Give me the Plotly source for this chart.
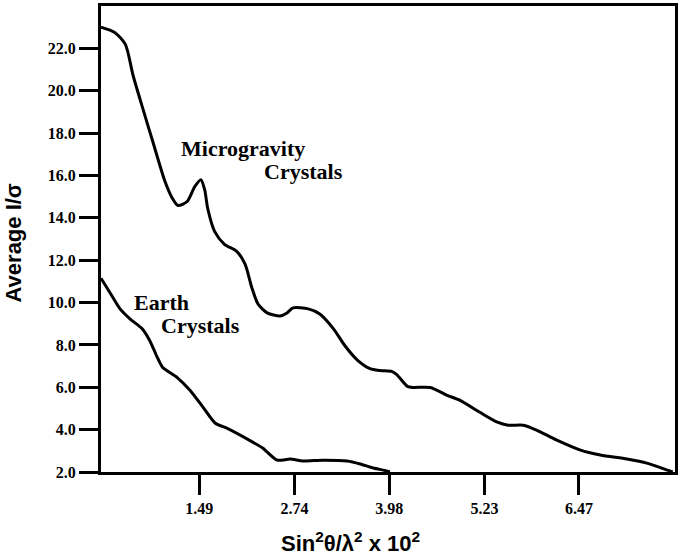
import plotly.graph_objects as go

# Microgravity crystals curve
micro_x = [0.20, 0.38, 0.52, 0.62, 0.75, 0.88, 1.04, 1.13, 1.21, 1.33, 1.43, 1.51, 1.56, 1.60,
           1.69, 1.82, 1.98, 2.09, 2.18, 2.26, 2.38, 2.55, 2.64, 2.72, 2.92, 3.07, 3.25, 3.40,
           3.57, 3.73, 3.86, 4.02, 4.08, 4.22, 4.30, 4.52, 4.74, 4.91, 5.17, 5.40, 5.54, 5.74,
           5.92, 6.18, 6.49, 6.75, 7.10, 7.36, 7.63, 7.70]
micro_y = [23.0, 22.75, 22.19, 20.73, 19.14, 17.59, 15.71, 14.96, 14.58, 14.77, 15.47, 15.80, 15.33, 14.44,
           13.36, 12.75, 12.42, 11.81, 10.69, 9.93, 9.51, 9.37, 9.51, 9.75, 9.70, 9.46, 8.76, 7.96,
           7.26, 6.88, 6.79, 6.74, 6.60, 6.04, 5.99, 5.99, 5.62, 5.38, 4.82, 4.35, 4.21, 4.21,
           3.97, 3.50, 3.03, 2.80, 2.61, 2.42, 2.09, 2.00]

# Earth crystals curve
earth_x = [0.20, 0.32, 0.45, 0.58, 0.74, 0.84, 0.94, 1.01, 1.20, 1.37, 1.54, 1.70, 1.85, 2.19,
           2.32, 2.51, 2.68, 2.85, 3.11, 3.43, 3.60, 3.77, 3.95, 3.99]
earth_y = [11.15, 10.45, 9.70, 9.23, 8.76, 8.20, 7.40, 6.93, 6.46, 5.85, 5.05, 4.30, 4.07, 3.41,
           3.13, 2.56, 2.61, 2.52, 2.56, 2.52, 2.38, 2.19, 2.05, 2.00]

x_tickvals = [1.49, 2.74, 3.98, 5.23, 6.47]
x_ticktext = ["1.49", "2.74", "3.98", "5.23", "6.47"]
y_tickvals = [2, 4, 6, 8, 10, 12, 14, 16, 18, 20, 22]
y_ticktext = ["2.0", "4.0", "6.0", "8.0", "10.0", "12.0", "14.0", "16.0", "18.0", "20.0", "22.0"]

serif = "Liberation Serif"
sans = "Liberation Sans"

fig = go.Figure()
for xs, ys in [(micro_x, micro_y), (earth_x, earth_y)]:
    fig.add_trace(go.Scatter(x=xs, y=ys, mode="lines",
                             line=dict(color="black", width=3, shape="spline", smoothing=0.7),
                             showlegend=False, hoverinfo="skip"))

fig.update_layout(
    width=685, height=555,
    margin=dict(l=101, r=10, t=3, b=83),
    paper_bgcolor="white", plot_bgcolor="white",
    xaxis=dict(range=[0.2, 7.73], showgrid=False, zeroline=False,
               showline=True, linecolor="black", linewidth=3, mirror=True,
               ticks="outside", ticklen=20, tickwidth=3, tickcolor="black",
               tickvals=x_tickvals, ticktext=x_ticktext,
               tickfont=dict(family=serif, size=16, color="black", weight="bold")),
    yaxis=dict(range=[2, 24], showgrid=False, zeroline=False,
               showline=True, linecolor="black", linewidth=3, mirror=True,
               ticks="outside", ticklen=19, tickwidth=3, tickcolor="black",
               tickvals=y_tickvals, ticktext=y_ticktext,
               tickfont=dict(family=serif, size=16, color="black", weight="bold")),
)

lab_font = dict(family=serif, size=22, color="black", weight="bold")
fig.add_annotation(x=2.06, y=17.26, xref="x", yref="y", text="Microgravity",
                   showarrow=False, font=lab_font)
fig.add_annotation(x=2.86, y=16.18, xref="x", yref="y", text="Crystals",
                   showarrow=False, font=lab_font)
fig.add_annotation(x=0.99, y=9.98, xref="x", yref="y", text="Earth",
                   showarrow=False, font=lab_font)
fig.add_annotation(x=1.50, y=8.90, xref="x", yref="y", text="Crystals",
                   showarrow=False, font=lab_font)

title_font = dict(family=sans, size=22, color="black", weight="bold")
fig.add_annotation(x=0.4355, y=-0.151, xref="paper", yref="paper",
                   text="Sin<sup>2</sup>θ/λ<sup>2</sup> x 10<sup>2</sup>",
                   showarrow=False, font=title_font, xanchor="center", yanchor="middle")
fig.add_annotation(x=-0.1516, y=0.4925, xref="paper", yref="paper",
                   text="Average I/σ", textangle=-90,
                   showarrow=False, font=title_font, xanchor="center", yanchor="middle")

fig.write_html("out.html", config={"displayModeBar": False},
               post_script="document.body.style.margin='0px';document.body.style.padding='0px';")
